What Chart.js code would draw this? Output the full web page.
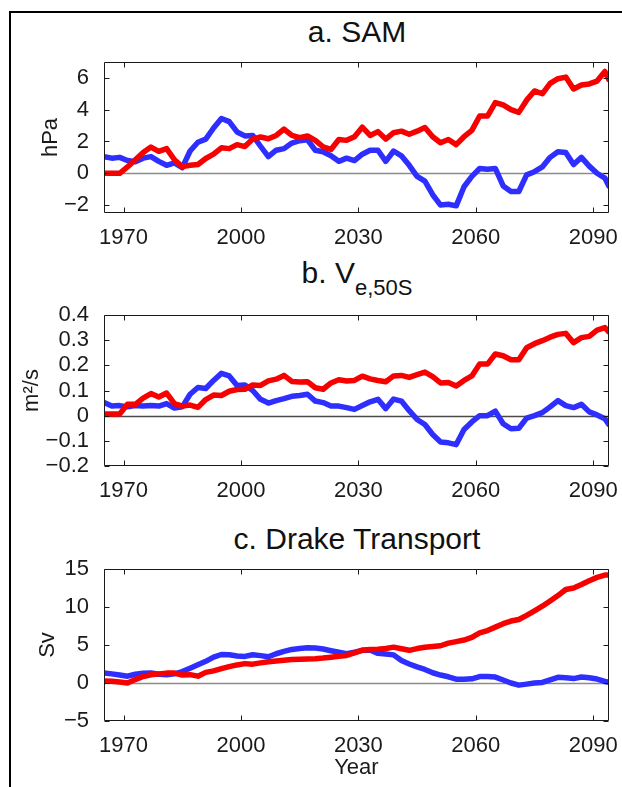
<!DOCTYPE html>
<html>
<head>
<meta charset="utf-8">
<script src="https://cdn.jsdelivr.net/npm/chart.js@4.4.1/dist/chart.umd.min.js"></script>
<style>
  body { margin: 0; width: 622px; height: 787px; background: #fff; position: relative; overflow: hidden;
         font-family: "Liberation Sans", Arial, sans-serif; color: #111; }
  .frame { position: absolute; left: 9px; top: 11px; width: 700px; height: 800px;
           border-left: 2px solid #000; border-top: 2px solid #000; }
  canvas { position: absolute; left: 0; }
  .title { position: absolute; left: 104px; width: 506px; text-align: center;
           font-size: 30px; line-height: 30px; white-space: nowrap; }
  .title .sub { font-size: 22px; position: relative; top: 12px; }
</style>
</head>
<body>
<div class="frame"></div>

<div class="title" style="top:17px">a. SAM</div>
<canvas id="sam" width="622" height="210" style="top:40px"></canvas>

<div class="title" style="top:258px">b. V<span class="sub">e,50S</span></div>
<canvas id="ve" width="622" height="213" style="top:290px"></canvas>

<div class="title" style="top:524px">c. Drake Transport</div>
<canvas id="drake" width="622" height="242" style="top:545px"></canvas>

<script>
// model years (every 2 yr, last point 2094)
const years = [
  1965, 1967, 1969, 1971, 1973, 1975, 1977, 1979, 1981, 1983,
  1985, 1987, 1989, 1991, 1993, 1995, 1997, 1999, 2001, 2003,
  2005, 2007, 2009, 2011, 2013, 2015, 2017, 2019, 2021, 2023,
  2025, 2027, 2029, 2031, 2033, 2035, 2037, 2039, 2041, 2043,
  2045, 2047, 2049, 2051, 2053, 2055, 2057, 2059, 2061, 2063,
  2065, 2067, 2069, 2071, 2073, 2075, 2077, 2079, 2081, 2083,
  2085, 2087, 2089, 2091, 2093, 2094
];

// SAM index (hPa)
const samRed = [
  0.0, 0.0, 0.0, 0.4, 0.85, 1.3, 1.65, 1.38, 1.55, 0.85,
  0.42, 0.5, 0.55, 0.93, 1.2, 1.6, 1.55, 1.8, 1.68, 2.15,
  2.28, 2.17, 2.38, 2.78, 2.38, 2.24, 2.35, 2.07, 1.66, 1.5,
  2.12, 2.07, 2.3, 2.9, 2.38, 2.62, 2.15, 2.55, 2.65, 2.45,
  2.65, 2.88, 2.3, 1.92, 2.12, 1.8, 2.3, 2.7, 3.6, 3.6,
  4.45, 4.3, 4.0, 3.83, 4.6, 5.18, 5.0, 5.65, 5.95, 6.05,
  5.3, 5.55, 5.62, 5.8, 6.4, 5.9
];
const samBlue = [
  1.05, 0.95, 1.0, 0.8, 0.72, 0.95, 1.05, 0.75, 0.5, 0.65,
  0.35, 1.4, 1.95, 2.15, 2.85, 3.45, 3.25, 2.6, 2.35, 2.38,
  1.7, 1.05, 1.45, 1.55, 1.9, 2.05, 2.1, 1.45, 1.35, 1.1,
  0.75, 0.95, 0.8, 1.2, 1.45, 1.45, 0.75, 1.4, 1.1, 0.5,
  -0.2, -0.5, -1.35, -2.0, -1.95, -2.05, -0.85, -0.2, 0.3, 0.25,
  0.3, -0.8, -1.15, -1.15, -0.1, 0.1, 0.4, 1.0, 1.35, 1.3,
  0.55, 1.0, 0.45, 0.0, -0.3, -0.8
];

// eddy momentum flux at 50S (m2/s)
const veRed = [
  0.007, 0.007, 0.007, 0.045, 0.045, 0.07, 0.088, 0.074, 0.09, 0.048,
  0.038, 0.042, 0.033, 0.064, 0.082, 0.08, 0.097, 0.104, 0.105, 0.122,
  0.12, 0.138, 0.145, 0.16, 0.136, 0.134, 0.135, 0.111, 0.105, 0.13,
  0.143, 0.138, 0.14, 0.157, 0.146, 0.14, 0.135, 0.158, 0.16, 0.152,
  0.163, 0.173, 0.155, 0.13, 0.132, 0.118, 0.14, 0.158, 0.205, 0.205,
  0.245, 0.238, 0.222, 0.222, 0.27, 0.286, 0.298, 0.312, 0.323, 0.327,
  0.29, 0.31, 0.315, 0.34, 0.35, 0.333
];
const veBlue = [
  0.052, 0.038, 0.04, 0.035, 0.04, 0.038, 0.04, 0.038, 0.048, 0.03,
  0.035, 0.085, 0.112, 0.108, 0.14, 0.168, 0.158, 0.12, 0.122, 0.1,
  0.065, 0.05, 0.06, 0.068, 0.077, 0.08, 0.085, 0.058, 0.052, 0.038,
  0.038, 0.032, 0.025, 0.04, 0.055, 0.065, 0.028, 0.066, 0.058, 0.02,
  -0.015, -0.035, -0.075, -0.105, -0.108, -0.115, -0.055, -0.025, 0.0, 0.0,
  0.018, -0.032, -0.052, -0.05, -0.01, 0.0, 0.012, 0.035, 0.06, 0.04,
  0.032, 0.045, 0.015, 0.003, -0.012, -0.035
];

// Drake Passage transport anomaly (Sv)
const drakeRed = [
  0.26, 0.22, 0.12, 0.0, 0.45, 0.85, 1.08, 1.2, 1.3, 1.3,
  1.05, 1.1, 0.9, 1.4, 1.6, 1.88, 2.15, 2.38, 2.55, 2.48,
  2.65, 2.8, 2.88, 2.98, 3.08, 3.12, 3.17, 3.2, 3.28, 3.4,
  3.52, 3.62, 3.95, 4.32, 4.4, 4.45, 4.55, 4.72, 4.5, 4.3,
  4.53, 4.7, 4.8, 4.9, 5.25, 5.45, 5.65, 6.0, 6.6, 6.9,
  7.35, 7.8, 8.15, 8.35, 8.9, 9.5, 10.1, 10.8, 11.5, 12.3,
  12.5, 12.95, 13.45, 13.9, 14.2, 14.2
];
const drakeBlue = [
  1.32, 1.2, 1.05, 0.9, 1.15, 1.28, 1.32, 1.15, 1.1, 1.2,
  1.5, 1.95, 2.4, 2.85, 3.4, 3.75, 3.72, 3.55, 3.5, 3.72,
  3.6, 3.45, 3.85, 4.15, 4.42, 4.55, 4.65, 4.6, 4.47, 4.25,
  4.05, 3.87, 4.05, 4.3, 4.35, 3.9, 3.82, 3.7, 2.95, 2.5,
  2.12, 1.78, 1.35, 1.05, 0.82, 0.5, 0.48, 0.55, 0.85, 0.85,
  0.78, 0.4, 0.0, -0.28, -0.15, 0.0, 0.07, 0.4, 0.75, 0.7,
  0.58, 0.78, 0.68, 0.52, 0.2, 0.1
];

const yearTicks = [1970, 2000, 2030, 2060, 2090];
const samTicks = [-2, 0, 2, 4, 6];
const veTicks = [-0.2, -0.1, 0, 0.1, 0.2, 0.3, 0.4];
const drakeTicks = [-5, 0, 5, 10, 15];

const RED = 'rgb(246,0,0)';
const BLUE = 'rgb(46,46,255)';

Chart.defaults.font.family = '"Liberation Sans", Arial, sans-serif';
Chart.defaults.font.size = 22;
Chart.defaults.color = '#1a1a1a';

// matlab-style box: zero line under the data, frame and inward ticks on top
const axisBox = {
  id: 'axisBox',
  beforeDatasetsDraw(chart, args, opts) {
    const { ctx, chartArea: a } = chart;
    const y0 = Math.round(chart.scales.y.getPixelForValue(0)) + 0.5;
    ctx.save();
    ctx.strokeStyle = opts.zero;
    ctx.lineWidth = 1.5;
    ctx.beginPath();
    ctx.moveTo(a.left, y0);
    ctx.lineTo(a.right, y0);
    ctx.stroke();
    ctx.restore();
  },
  afterDatasetsDraw(chart) {
    const { ctx, chartArea: a, scales: { x, y } } = chart;
    const L = Math.round(a.left) + 0.5, R = Math.round(a.right) - 0.5;
    const T = Math.round(a.top) + 0.5, B = Math.round(a.bottom) - 0.5;
    ctx.save();
    ctx.strokeStyle = '#1a1a1a';
    ctx.lineWidth = 1;
    ctx.beginPath();
    ctx.rect(L, T, R - L, B - T);
    x.ticks.forEach(t => {
      const px = Math.round(x.getPixelForValue(t.value)) + 0.5;
      ctx.moveTo(px, B); ctx.lineTo(px, B - 5);
      ctx.moveTo(px, T); ctx.lineTo(px, T + 5);
    });
    y.ticks.forEach(t => {
      const py = Math.round(y.getPixelForValue(t.value)) + 0.5;
      ctx.moveTo(L, py); ctx.lineTo(L + 5, py);
      ctx.moveTo(R, py); ctx.lineTo(R - 5, py);
    });
    ctx.stroke();
    ctx.restore();
  }
};

function series(vals, color) {
  return {
    data: years.map((yr, i) => ({ x: yr, y: vals[i] })),
    borderColor: color,
    backgroundColor: color
  };
}

function panel(id, p) {
  return new Chart(document.getElementById(id), {
    type: 'line',
    data: { datasets: [series(p.red, RED), series(p.blue, BLUE)] },
    options: {
      responsive: false,
      animation: false,
      devicePixelRatio: 1,
      layout: { padding: { top: p.padTop, right: 12, left: 0, bottom: 0 } },
      plugins: {
        legend: { display: false },
        tooltip: { enabled: false },
        axisBox: { zero: p.zero }
      },
      elements: {
        point: { radius: 0 },
        line: { tension: 0, borderWidth: 5.5, borderJoinStyle: 'round', borderCapStyle: 'round' }
      },
      scales: {
        x: {
          type: 'linear', min: 1965, max: 2094,
          grid: { display: false }, border: { display: false },
          afterBuildTicks: s => { s.ticks = yearTicks.map(v => ({ value: v })); },
          afterFit: s => { s.height = p.xHeight; },
          ticks: { padding: 4, maxRotation: 0, autoSkip: false, callback: v => String(v) },
          title: { display: !!p.xTitle, text: p.xTitle || '', padding: { top: 0, bottom: 6 } }
        },
        y: {
          type: 'linear', min: p.min, max: p.max,
          grid: { display: false }, border: { display: false },
          afterBuildTicks: s => { s.ticks = p.ticks.map(v => ({ value: v })); },
          afterFit: s => { s.width = 104; },
          ticks: { padding: 7, autoSkip: false, callback: v => String(v).replace('-', '\u2212') },
          title: { display: true, text: p.yTitle, padding: { top: p.titlePad, bottom: 0 } }
        }
      }
    },
    plugins: [axisBox]
  });
}

panel('sam', { red: samRed, blue: samBlue, min: -2.5, max: 7, ticks: samTicks,
  yTitle: 'hPa', titlePad: 38, zero: '#8c8c8c', padTop: 22, xHeight: 37 });
panel('ve', { red: veRed, blue: veBlue, min: -0.2, max: 0.4, ticks: veTicks,
  yTitle: 'm\u00b2/s', titlePad: 19, zero: '#4a4a4a', padTop: 25, xHeight: 37 });
panel('drake', { red: drakeRed, blue: drakeBlue, min: -5, max: 15, ticks: drakeTicks,
  yTitle: 'Sv', titlePad: 35, zero: '#8c8c8c', padTop: 24, xHeight: 66, xTitle: 'Year' });
</script>
</body>
</html>
